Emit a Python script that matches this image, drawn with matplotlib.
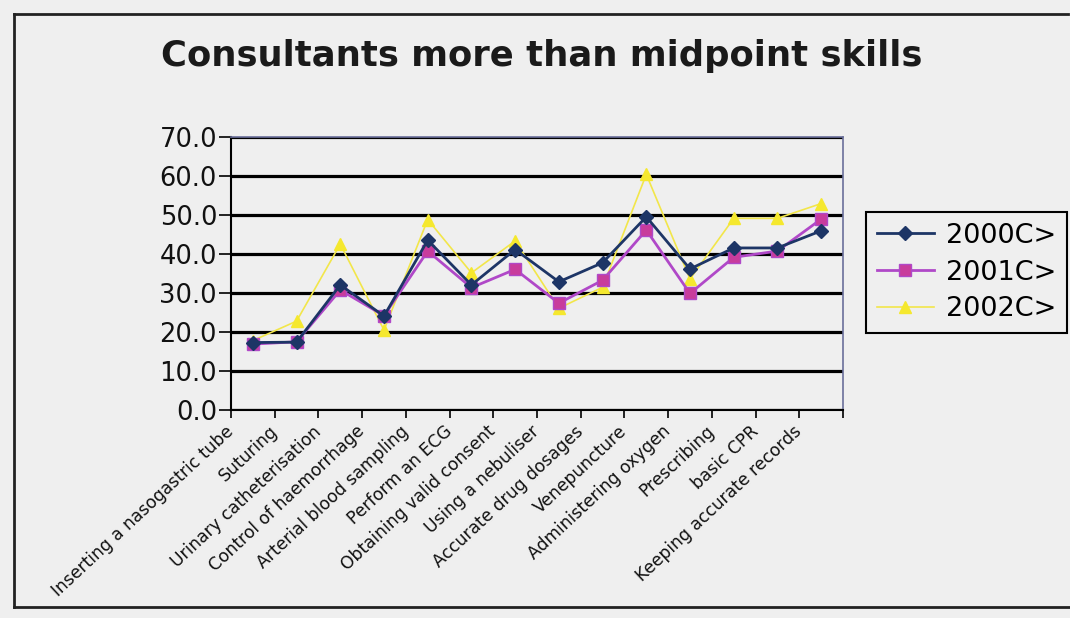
import numpy as np
import matplotlib
matplotlib.use("Agg")
import matplotlib.pyplot as plt
from matplotlib.lines import Line2D
from matplotlib.transforms import ScaledTranslation

skills = ["Inserting a nasogastric tube", "Suturing", "Urinary catheterisation",
          "Control of haemorrhage", "Arterial blood sampling", "Perform an ECG",
          "Obtaining valid consent", "Using a nebuliser", "Accurate drug dosages",
          "Venepuncture", "Administering oxygen", "Prescribing", "basic CPR",
          "Keeping accurate records"]
y2000 = [17.2, 17.3, 32.0, 24.0, 43.5, 32.0, 41.1, 32.8, 37.7, 49.5, 36.1, 41.5, 41.5, 45.9]
y2001 = [16.8, 17.4, 30.7, 24.1, 40.7, 31.3, 36.0, 27.3, 33.2, 46.1, 29.8, 39.1, 40.7, 48.9]
y2002 = [17.7, 22.7, 42.5, 20.4, 48.8, 35.1, 43.3, 26.0, 31.4, 60.4, 33.5, 49.1, 49.1, 52.9]
series_names = ["2000C>", "2001C>", "2002C>"]

bg = "#efefef"
fig = plt.figure(figsize=(10.7, 6.18), dpi=100, facecolor=bg)
ax = fig.add_axes([231/1070, 1 - 409.5/618, 612/1070, 272.5/618])
ax.set_facecolor(bg)

x = np.arange(len(skills))
ax.plot(x, y2000, color="#1d3566", lw=2, marker="D", ms=7, mfc="#1d3566", mec="#1d3566",
        label=series_names[0], zorder=4)
ax.plot(x, y2001, color="#b048c8", lw=2, marker="s", ms=8, mfc="#c83c9c", mec="#b048c8",
        label=series_names[1], zorder=3)
ax.plot(x, y2002, color="#f2e64a", lw=1.2, marker="^", ms=8, mfc="#f5e82e", mec="#f5e82e",
        label=series_names[2], zorder=2)

ax.set_ylim(0, 70)
ax.set_xlim(-0.5, len(skills) - 0.5)
ax.set_yticks(np.arange(0, 71, 10))
ax.set_yticklabels(["%.1f" % v for v in np.arange(0, 71, 10)], fontsize=18.5, color="#111111")
ax.yaxis.grid(True, color="black", lw=2.3)
ax.set_axisbelow(True)
ax.tick_params(axis="y", length=9, width=1.2, pad=1, direction="out")

ax.set_xticks(np.arange(-0.5, len(skills)), minor=True)
ax.set_xticks(x)
ax.set_xticklabels(skills, rotation=43, ha="right", va="top", rotation_mode="anchor",
                   fontsize=12.3, color="#111111")
ax.tick_params(axis="x", which="major", length=0)
ax.tick_params(axis="x", which="minor", length=6, width=1.2, direction="out")
shift = ScaledTranslation(-28/100, -8/100, fig.dpi_scale_trans)
for lab in ax.get_xticklabels():
    lab.set_transform(lab.get_transform() + shift)

ax.spines["left"].set_color("black")
ax.spines["left"].set_linewidth(1.5)
ax.spines["bottom"].set_color("black")
ax.spines["bottom"].set_linewidth(1.5)
ax.spines["top"].set_color("#6a6f9a")
ax.spines["top"].set_linewidth(1.2)
ax.spines["right"].set_color("#6a6f9a")
ax.spines["right"].set_linewidth(1.2)

fig.text(542/1070, 1 - 56/618, "Consultants more than midpoint skills", ha="center", va="center",
         fontsize=25.5, fontweight="bold", color="#1a1a1a")

leg = ax.legend(loc="upper left", bbox_to_anchor=(866/1070, 1 - 212/618),
                bbox_transform=fig.transFigure, fontsize=19.5, frameon=True, fancybox=False,
                edgecolor="black", facecolor=bg, framealpha=1, handlelength=2.1,
                handletextpad=0.45, borderpad=0.4, labelspacing=0.4, borderaxespad=0)
leg.get_frame().set_linewidth(1.5)

# outer chart border
for xs, ys in [([14, 14], [14, 607]), ([14, 1068], [14, 14]), ([14, 1070], [607, 607])]:
    fig.add_artist(Line2D([v/1070 for v in xs], [1 - v/618 for v in ys], color="#222222", lw=2))

fig.savefig("out.png", dpi=100, facecolor=bg)
